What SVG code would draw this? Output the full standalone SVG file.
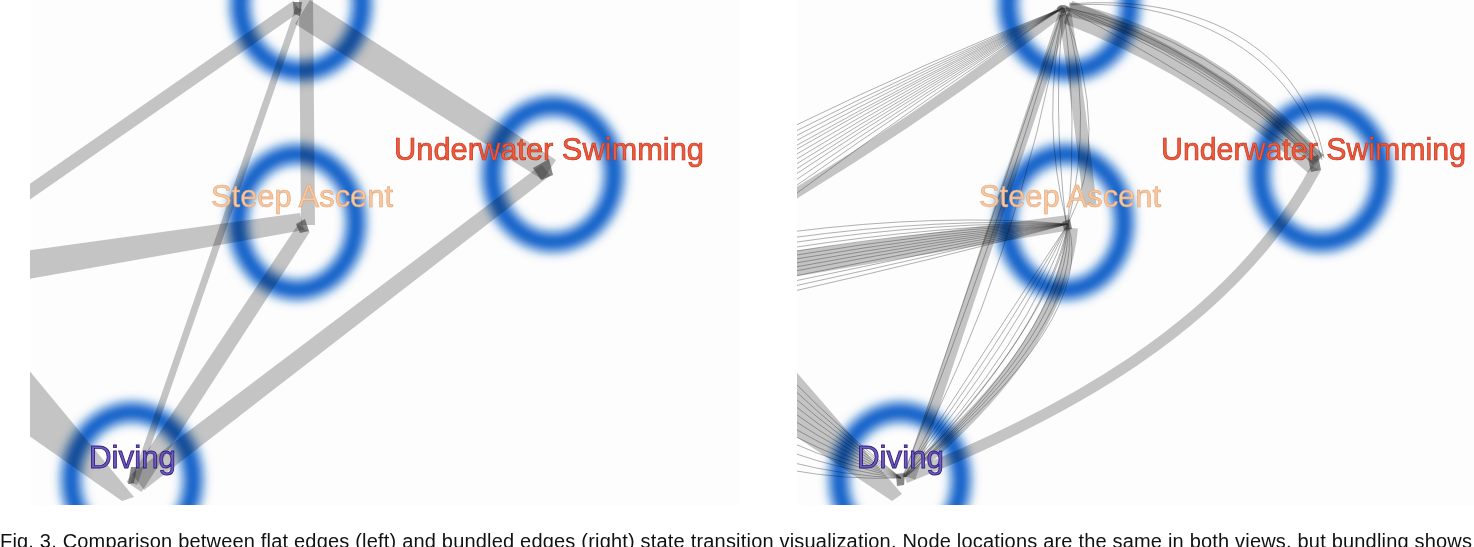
<svg xmlns="http://www.w3.org/2000/svg" width="1474" height="547" viewBox="0 0 1474 547">
<defs>
<filter id="blur" x="-40%" y="-40%" width="180%" height="180%"><feGaussianBlur stdDeviation="5.5"/></filter>
<clipPath id="clipL"><rect x="30" y="0" width="710" height="505"/></clipPath>
<clipPath id="clipR"><rect x="797" y="0" width="677" height="505"/></clipPath>
<style>
.ring{fill:none;stroke:#0b5fc8;stroke-width:19;filter:url(#blur);mix-blend-mode:multiply}
.band{fill:#c4c4c4;mix-blend-mode:multiply}
.sband{fill:none;stroke:#c4c4c4;mix-blend-mode:multiply}
.thin{fill:none;stroke:#222;stroke-width:0.7;stroke-opacity:0.5}
.tip{fill:#3a3a3a;opacity:0.6}
.lbl{font-family:"Liberation Sans",Arial,sans-serif;font-size:32px}
.uw{fill:#ef5b3c;stroke:#c5341c;stroke-width:0.7;font-size:30.5px}
.sa{fill:#f6c7a0;stroke:#e3a373;stroke-width:0.6}
.dv{fill:#6f5cc2;stroke:#2e1a78;stroke-width:0.9}
.cap{font-family:"Liberation Sans",Arial,sans-serif;font-size:20px;fill:#111}
</style>
</defs>
<rect x="0" y="0" width="1474" height="547" fill="#ffffff"/>
<rect x="30" y="0" width="710" height="505" fill="#fdfdfd"/>
<rect x="797" y="0" width="677" height="505" fill="#fdfdfd"/>

<!-- LEFT PANEL -->
<g clip-path="url(#clipL)">
<g id="connectors-left">
<polygon class="band" points="14.3,194.7 293.3,0.7 300.7,11.3 21.7,205.3"/>
<polygon class="band" points="18,252 300,213 304,230 18,281"/>
<polygon class="band" points="299,-2 313,-2 315,225 301,225"/>
<polygon class="band" points="310,0 556,160 543,180 295,24"/>
<polygon class="band" points="130.7,482.9 295.7,6.9 302.3,9.1 137.3,485.1"/>
<polygon class="band" points="126.5,482.1 298.1,224.2 309.9,231.8 141.5,491.9"/>
<polygon class="band" points="131.9,474.1 541.7,164.4 550.3,175.6 144.1,489.9"/>
<polygon class="band" points="18,357 134,497 122,501 18,428"/>
<polygon class="tip" points="296,224 305,219 309,231 300,233"/>
<polygon class="tip" points="533,168 549,159 553,175 541,180"/>
<polygon class="tip" points="131,467 137,467 134,483 128,484"/>
<polygon class="tip" points="293,2 302,2 300,16 294,14"/>
</g>
<g id="node-top-left"><ellipse class="ring" cx="301" cy="3" rx="61" ry="68"/></g>
<g id="node-underwater-left"><ellipse class="ring" cx="553" cy="174" rx="61" ry="68"/></g>
<g id="node-steep-left"><ellipse class="ring" cx="297" cy="222" rx="59" ry="68"/></g>
<g id="node-diving-left"><ellipse class="ring" cx="132" cy="480" rx="61" ry="68"/></g>
</g>
<g id="labels-left">
<text class="lbl uw" x="394" y="160" textLength="310" lengthAdjust="spacingAndGlyphs">Underwater Swimming</text>
<text class="lbl sa" x="211" y="207" textLength="182" lengthAdjust="spacingAndGlyphs">Steep Ascent</text>
<text class="lbl dv" x="89" y="468" textLength="87" lengthAdjust="spacingAndGlyphs">Diving</text>
</g>

<!-- RIGHT PANEL -->
<g clip-path="url(#clipR)">
<g id="connectors-right">
<path class="sband" stroke-width="24" d="M1068,12 Q1205,65 1316,164"/>
<path class="sband" stroke-width="14" d="M1068,9 Q1212,42 1318,160"/>
<path class="sband" stroke-width="10" d="M788,198 Q930,112 1064,9"/>
<polygon class="band" points="786,252 1068,215 1071,230 786,278"/>
<path class="sband" stroke-width="13" d="M1065,14 Q1080,110 1090,205"/>
<path class="sband" stroke-width="11" d="M1066,8 L910,478"/>
<path class="sband" stroke-width="12" d="M1072,228 Q1062,340 925,460"/>
<path class="sband" stroke-width="11" d="M905,478 C1050,420 1230,330 1316,168"/>
<polygon class="band" points="786,360 902,494 892,501 786,430"/>
<path class="thin" d="M1066,7 Q1205,45 1318,160"/>
<path class="thin" d="M1066,9 Q1200,58 1316,162"/>
<path class="thin" d="M1067,10 Q1192,72 1314,164"/>
<path class="thin" d="M1066,8 Q1215,35 1320,158"/>
<path class="thin" d="M1066,8 Q1198,52 1317,161"/>
<path class="thin" stroke-opacity="0.3" d="M1070,5 C1180,-2 1292,48 1322,160"/>
<path class="thin" stroke-opacity="0.3" d="M1070,4 C1190,-6 1300,40 1324,158"/>
<path class="thin" d="M790,128 Q930,60 1063,8"/>
<path class="thin" d="M790,134 Q930,63 1063,8"/>
<path class="thin" d="M790,139 Q930,65.5 1063,8"/>
<path class="thin" d="M790,144 Q930,68 1063,8"/>
<path class="thin" d="M790,149 Q930,70.5 1063,8"/>
<path class="thin" d="M790,153 Q930,72.5 1063,8"/>
<path class="thin" d="M790,158 Q930,75 1063,8"/>
<path class="thin" d="M790,163 Q930,77.5 1063,8"/>
<path class="thin" d="M790,168 Q930,80 1063,8"/>
<path class="thin" d="M790,173 Q930,82.5 1063,8"/>
<path class="thin" d="M790,178 Q930,85 1063,8"/>
<path class="thin" d="M790,184 Q930,88 1063,8"/>
<path class="thin" d="M790,190 Q930,91 1063,8"/>
<path class="thin" d="M790,198 Q930,95 1063,8"/>
<path class="thin" d="M790,232 Q940,213 1068,224"/>
<path class="thin" d="M790,238 Q940,217.5 1068,224"/>
<path class="thin" d="M790,243 Q940,221 1068,224"/>
<path class="thin" d="M790,248 Q940,225 1068,224"/>
<path class="thin" d="M790,252 Q940,228 1068,224"/>
<path class="thin" d="M790,256 Q940,231 1068,224"/>
<path class="thin" d="M790,260 Q940,234 1068,224"/>
<path class="thin" d="M790,264 Q940,237 1068,224"/>
<path class="thin" d="M790,268 Q940,240 1068,224"/>
<path class="thin" d="M790,272 Q940,243 1068,224"/>
<path class="thin" d="M790,277 Q940,246.5 1068,224"/>
<path class="thin" d="M790,282 Q940,250.5 1068,224"/>
<path class="thin" d="M790,287 Q940,254 1068,224"/>
<path class="thin" d="M790,292 Q940,258 1068,224"/>
<path class="thin" d="M1064,8 Q1040,120 1067,224"/>
<path class="thin" d="M1064,8 Q1095,110 1068,224"/>
<path class="thin" d="M1064,8 Q1112,140 1068,224"/>
<path class="thin" d="M1064,8 Q1052,100 1066,224"/>
<path class="thin" d="M1064,8 Q1078,120 1068,224"/>
<path class="thin" d="M1063,8 Q985,240 904,476"/>
<path class="thin" d="M1063,8 Q1000,230 903,476"/>
<path class="thin" d="M1063,8 Q1020,260 905,477"/>
<path class="thin" d="M1068,224 Q985,350 903,477"/>
<path class="thin" d="M1068,224 Q1000,345 903,477"/>
<path class="thin" d="M1068,224 Q1015,340 904,477"/>
<path class="thin" d="M1068,224 Q1030,340 904,477"/>
<path class="thin" d="M1068,224 Q1045,335 904,477"/>
<path class="thin" d="M1068,224 Q1060,335 905,477"/>
<path class="thin" d="M1068,224 Q1072,330 905,477"/>
<path class="thin" d="M1068,224 Q1085,325 905,477"/>
<path class="thin" d="M1068,224 Q1098,320 906,477"/>
<path class="thin" d="M1068,224 Q1055,320 904,477"/>
<path class="thin" d="M790,378 Q845,434 901,478"/>
<path class="thin" d="M790,386 Q845,438 901,478"/>
<path class="thin" d="M790,394 Q845,442 901,478"/>
<path class="thin" d="M790,402 Q845,446 901,478"/>
<path class="thin" d="M790,410 Q845,450 901,478"/>
<path class="thin" d="M790,418 Q845,454 901,478"/>
<path class="thin" d="M790,426 Q845,458 901,478"/>
<path class="thin" d="M790,434 Q845,462 901,478"/>
<path class="thin" d="M790,442 Q845,466 901,478"/>
<path class="thin" d="M790,452 Q845,471 901,478"/>
<path class="thin" d="M790,462 Q845,476 901,478"/>
<path class="thin" d="M790,470 Q845,480 901,478"/>
<ellipse class="tip" cx="1063" cy="9" rx="6" ry="4"/>
<polygon class="tip" points="1062,222 1070,219 1072,229 1064,230"/>
<polygon class="tip" points="1308,158 1318,155 1321,170 1311,172"/>
<polygon class="tip" points="896,474 905,473 904,485 897,486"/>
</g>
<g id="node-top-right"><ellipse class="ring" cx="1069" cy="3" rx="61" ry="68"/></g>
<g id="node-underwater-right"><ellipse class="ring" cx="1321" cy="174" rx="61" ry="68"/></g>
<g id="node-steep-right"><ellipse class="ring" cx="1065" cy="222" rx="59" ry="68"/></g>
<g id="node-diving-right"><ellipse class="ring" cx="900" cy="480" rx="61" ry="68"/></g>
</g>
<g id="labels-right">
<text class="lbl uw" x="1161" y="160" textLength="305" lengthAdjust="spacingAndGlyphs">Underwater Swimming</text>
<text class="lbl sa" x="979" y="207" textLength="182" lengthAdjust="spacingAndGlyphs">Steep Ascent</text>
<text class="lbl dv" x="857" y="468" textLength="87" lengthAdjust="spacingAndGlyphs">Diving</text>
</g>

<text class="cap" x="0" y="548" textLength="1472" lengthAdjust="spacing">Fig. 3. Comparison between flat edges (left) and bundled edges (right) state transition visualization. Node locations are the same in both views, but bundling shows</text>
</svg>
